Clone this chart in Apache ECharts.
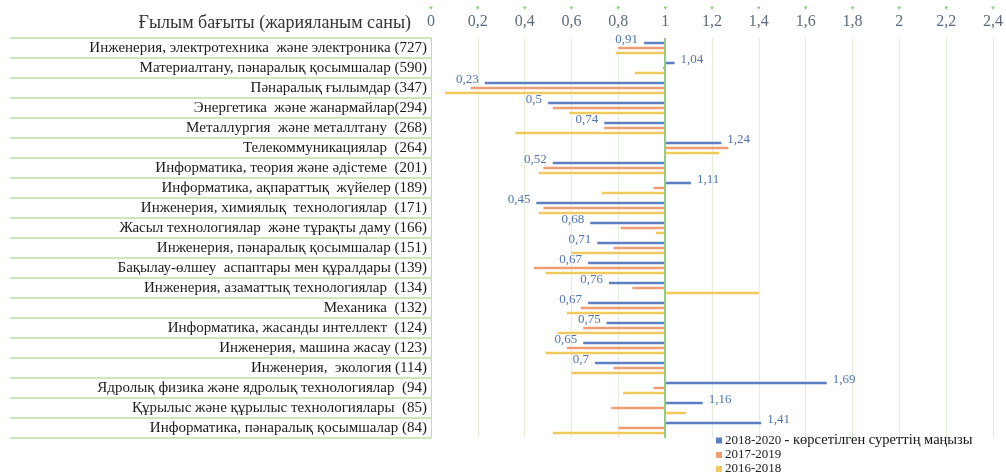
<!DOCTYPE html>
<html>
<head>
<meta charset="utf-8">
<script src="https://cdn.jsdelivr.net/npm/echarts@6/dist/echarts.min.js"></script>
<style>
  html, body { margin: 0; padding: 0; background: #fff; }
  #chart { width: 1006px; height: 473px; }
</style>
</head>
<body>
<div id="chart"></div>
<script>
var categories = [
    'Инженерия, электротехника  және электроника (727)',
    'Материалтану, пәнаралық қосымшалар (590)',
    'Пәнаралық ғылымдар (347)',
    'Энергетика  және жанармайлар(294)',
    'Металлургия  және металлтану  (268)',
    'Телекоммуникациялар  (264)',
    'Информатика, теория және әдістеме  (201)',
    'Информатика, ақпараттық  жүйелер (189)',
    'Инженерия, химиялық  технологиялар  (171)',
    'Жасыл технологиялар  және тұрақты даму (166)',
    'Инженерия, пәнаралық қосымшалар (151)',
    'Бақылау-өлшеу  аспаптары мен құралдары (139)',
    'Инженерия, азаматтық технологиялар  (134)',
    'Механика  (132)',
    'Информатика, жасанды интеллект  (124)',
    'Инженерия, машина жасау (123)',
    'Инженерия,  экология (114)',
    'Ядролық физика және ядролық технологиялар  (94)',
    'Құрылыс және құрылыс технологиялары  (85)',
    'Информатика, пәнаралық қосымшалар (84)'
];

var y2018_2020 = [0.91, 1.04, 0.23, 0.5, 0.74, 1.24, 0.52, 1.11, 0.45, 0.68, 0.71, 0.67, 0.76, 0.67, 0.75, 0.65, 0.7, 1.69, 1.16, 1.41];
var y2017_2019 = [0.80, 0.99, 0.17, 0.52, 0.74, 1.27, 0.48, 0.95, 0.48, 0.81, 0.78, 0.44, 0.86, 0.64, 0.65, 0.58, 0.78, 0.95, 0.77, 0.80];
var y2016_2018 = [0.79, 0.87, 0.06, 0.59, 0.36, 1.23, 0.46, 0.73, 0.46, 0.96, 0.60, 0.49, 1.40, 0.58, 0.54, 0.49, 0.60, 0.82, 1.09, 0.52];

var xTicks = [0, 0.2, 0.4, 0.6, 0.8, 1, 1.2, 1.4, 1.6, 1.8, 2, 2.2, 2.4];

var seriesNames = ['2018-2020', '2017-2019', '2016-2018'];
var seriesColors = ['#5b7fc2', '#ee9d74', '#f3c95e'];
var seriesData = [y2018_2020, y2017_2019, y2016_2018];

var serif = '"Liberation Serif", "DejaVu Serif", serif';

function fmt(v) {
    return String(v).replace('.', ',');
}

var series = [];
for (let s = 0; s < 3; s++) {
    let stackName = 'st' + s;
    // invisible base so every bar starts at 1
    series.push({
        name: 'base' + s,
        type: 'bar',
        stack: stackName,
        stackStrategy: 'all',
        barWidth: 2.5,
        barGap: '100%',
        silent: true,
        itemStyle: { color: 'transparent' },
        data: categories.map(function () { return 1; })
    });
    let deltas = seriesData[s].map(function (v, i) {
        let item = { value: +(v - 1).toFixed(3) };
        if (s === 0) {
            item.label = { position: v < 1 ? 'left' : 'right' };
        }
        return item;
    });
    let ser = {
        name: seriesNames[s],
        type: 'bar',
        stack: stackName,
        stackStrategy: 'all',
        barWidth: 2.5,
        barGap: '100%',
        itemStyle: { color: seriesColors[s] },
        data: deltas
    };
    if (s === 0) {
        ser.label = {
            show: true,
            distance: 6,
            offset: [0, -3],
            color: '#4f74b3',
            fontFamily: serif,
            fontSize: 13,
            formatter: function (p) { return fmt(y2018_2020[p.dataIndex]); }
        };
        ser.markLine = {
            silent: true,
            symbol: 'none',
            label: { show: false },
            lineStyle: { color: '#8fd17a', width: 2, type: 'solid' },
            data: [{ xAxis: 1 }]
        };
    }
    series.push(ser);
}

var chart = echarts.init(document.getElementById('chart'));
chart.setOption({
    animation: false,
    textStyle: { fontFamily: serif },
    title: {
        text: 'Ғылым бағыты (жарияланым саны)',
        right: 590,
        top: 9,
        textStyle: { fontFamily: serif, fontSize: 18, fontWeight: 'normal', color: '#333' }
    },
    legend: {
        data: seriesNames,
        orient: 'vertical',
        left: 711,
        top: 428,
        height: 80,
        itemWidth: 6,
        itemHeight: 6,
        itemGap: 0,
        icon: 'rect',
        textStyle: {
            fontFamily: serif,
            fontSize: 13,
            lineHeight: 14,
            color: '#222',
            padding: [0, 0, 0, -2],
            rich: {
                n: { fontFamily: serif, fontSize: 14.5, color: '#111', lineHeight: 14 }
            }
        },
        formatter: function (name) {
            if (name === '2018-2020') {
                return name + ' {n|- көрсетілген суреттің маңызы}';
            }
            return name;
        }
    },
    grid: {
        left: 431,
        right: 13,
        top: 38,
        bottom: 35
    },
    xAxis: {
        type: 'value',
        position: 'top',
        min: xTicks[0],
        max: xTicks[xTicks.length - 1],
        interval: 0.2,
        axisLine: { show: false },
        axisTick: { show: false },
        splitLine: { show: true, lineStyle: { color: '#e1efd8', width: 1 } },
        axisLabel: {
            margin: 8,
            formatter: function (v) {
                return '{t|▼}\n{v|' + fmt(+v.toFixed(1)) + '}';
            },
            rich: {
                t: { fontSize: 6, color: '#8fcf84', lineHeight: 12 },
                v: { fontSize: 16, color: '#5d6b7c', fontFamily: serif, lineHeight: 16 }
            }
        }
    },
    yAxis: {
        type: 'category',
        inverse: true,
        data: categories,
        axisLine: { show: true, lineStyle: { color: '#b9dfae', width: 1 } },
        axisTick: {
            show: true,
            interval: 0,
            length: 421,
            lineStyle: { color: '#b9dfae', width: 1.5 }
        },
        axisLabel: {
            interval: 0,
            margin: 4,
            fontFamily: serif,
            fontSize: 15,
            color: '#1a1a1a'
        }
    },
    series: series
});
</script>
</body>
</html>
